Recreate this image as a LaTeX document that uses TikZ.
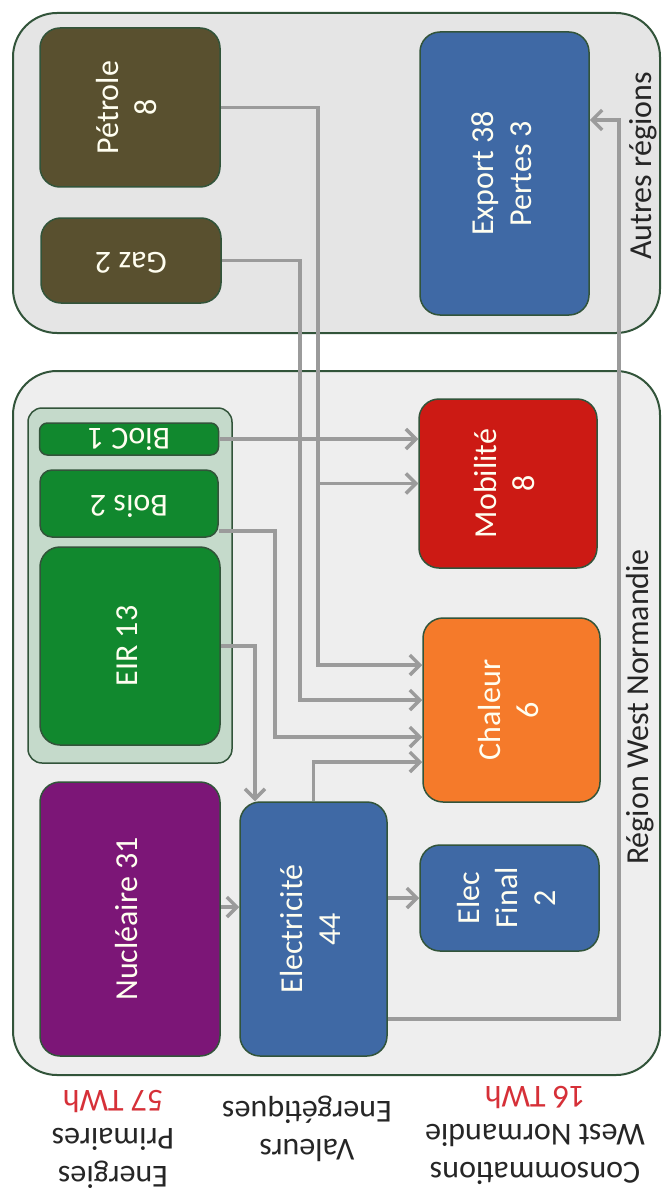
\documentclass[tikz,border=0pt]{standalone}
\usepackage{fontspec}
\setmainfont{Carlito}
\usepackage{graphicx}
\usepackage{xcolor}
\usepackage{tikz}
\usetikzlibrary{arrows.meta}

\definecolor{framegreen}{RGB}{50,84,58}
\definecolor{autresgray}{RGB}{229,229,229}
\definecolor{regiongray}{RGB}{238,238,238}
\definecolor{oilbrown}{RGB}{89,80,47}
\definecolor{elecblue}{RGB}{63,105,165}
\definecolor{renewgreen}{RGB}{17,136,46}
\definecolor{renewpale}{RGB}{197,218,203}
\definecolor{nucpurple}{RGB}{124,22,119}
\definecolor{mobred}{RGB}{204,26,20}
\definecolor{heatorange}{RGB}{245,122,42}
\definecolor{flowgray}{RGB}{155,155,155}
\definecolor{twhred}{RGB}{214,48,56}

\newcommand{\uptext}[1]{\rotatebox{90}{\begin{tabular}{@{}c@{}}#1\end{tabular}}}
\newcommand{\fliptext}[1]{\rotatebox{180}{\begin{tabular}{@{}c@{}}#1\end{tabular}}}

\begin{document}
\begin{tikzpicture}[x=1pt, y=-1pt,
    every node/.style={inner sep=0pt, text=black!85, font=\fontsize{32}{38}\selectfont},
    zone/.style={draw=framegreen, line width=2pt, rounded corners=44pt},
    block/.style={draw=framegreen, line width=1.5pt, rounded corners=20pt, text=white!94!yellow},
    flow/.style={draw=flowgray, line width=3.5pt, -{Straight Barb[length=10pt,width=20pt]}}]
    \fill[white] (0,0) rectangle (664,1193);
    \useasboundingbox (0,0) rectangle (664,1193);

    % the two areas
    \node[zone, fill=autresgray, minimum width=647pt, minimum height=320pt] (autres) at (336.5,173) {};
    \node[zone, fill=regiongray, minimum width=647pt, minimum height=704pt] (region) at (336.5,723) {};
    \node (autreslbl) at (644,166) {\uptext{Autres régions}};
    \node (regionlbl) at (641,707) {\uptext{Région West Normandie}};

    % sources
    \node[block, fill=oilbrown, minimum width=180pt, minimum height=159pt] (petrole) at (130,107.5) {\uptext{Pétrole\\8}};
    \node[block, fill=oilbrown, minimum width=180pt, minimum height=85pt] (gaz) at (131,260.5) {\fliptext{Gaz 2}};
    \node[block, fill=elecblue, minimum width=169pt, minimum height=283pt] (export) at (504.5,173.5) {\uptext{Export 38\\Pertes 3}};
    \node[draw=framegreen, line width=1.5pt, rounded corners=14pt, fill=renewpale, minimum width=204pt, minimum height=355pt] (renouv) at (130,585.5) {};
    \node[block, fill=renewgreen, rounded corners=8pt, minimum width=179pt, minimum height=32pt] (bioc) at (129,439) {\rotatebox{180}{BioC 1}};
    \node[block, fill=renewgreen, rounded corners=12pt, minimum width=178pt, minimum height=67pt] (bois) at (129,503.5) {\fliptext{Bois 2}};
    \node[block, fill=renewgreen, minimum width=180pt, minimum height=198pt] (eir) at (130,646) {\uptext{EIR 13}};
    \node[block, fill=nucpurple, minimum width=180pt, minimum height=274pt] (nucleaire) at (130,919) {\uptext{Nucléaire 31}};
    \node[block, fill=elecblue, minimum width=147pt, minimum height=254pt] (elec) at (313.5,929) {\uptext{Electricité\\44}};

    % uses
    \node[block, fill=mobred, minimum width=178pt, minimum height=169pt] (mobilite) at (508,483.5) {\uptext{Mobilité\\8}};
    \node[block, fill=heatorange, minimum width=177pt, minimum height=184pt] (chaleur) at (511.5,710) {\uptext{Chaleur\\6}};
    \node[block, fill=elecblue, minimum width=179pt, minimum height=106pt] (elecfinal) at (509.5,898) {\uptext{Elec\\Final\\2}};

    % column titles
    \node (primaires) at (113,1136) {\fliptext{Energies\\Primaires\\\textcolor{twhred}{57 TWh}}};
    \node (valeurs) at (307,1128) {\fliptext{Valeurs\\Energétiques}};
    \node (conso) at (535,1132) {\fliptext{Consommations\\West Normandie\\\textcolor{twhred}{16 TWh}}};

    % flows
    \coordinate (oilheat) at (318,665);
    \coordinate (gasheat) at (300,700);
    \coordinate (woodheat) at (275,737);
    \coordinate (exportin) at (619,120);
    \draw[flow] (bioc.east) -- (bioc.east -| mobilite.west);
    \draw[flow] (petrole.east -| oilheat) |- (mobilite.west);
    \draw[flow] (petrole.east) -| (oilheat) -- (oilheat -| chaleur.west);
    \draw[flow] (gaz.east) -| (gasheat) -- (gasheat -| chaleur.west);
    \draw[flow] ([yshift=7pt]bois.south east) -| (woodheat) -- (woodheat -| chaleur.west);
    \draw[flow] (eir.east) -| ([xshift=-58.5pt]elec.north);
    \draw[flow] (elec.north) |- ([yshift=-52pt]chaleur.west);
    \draw[flow] ([yshift=12pt]nucleaire.east) -- ([yshift=22pt]elec.west);
    \draw[flow] (elec.east |- elecfinal.west) -- (elecfinal.west);
    \draw[flow] ([yshift=-90pt]elec.east) -| (exportin) -- (exportin -| export.east);
\end{tikzpicture}
\end{document}
